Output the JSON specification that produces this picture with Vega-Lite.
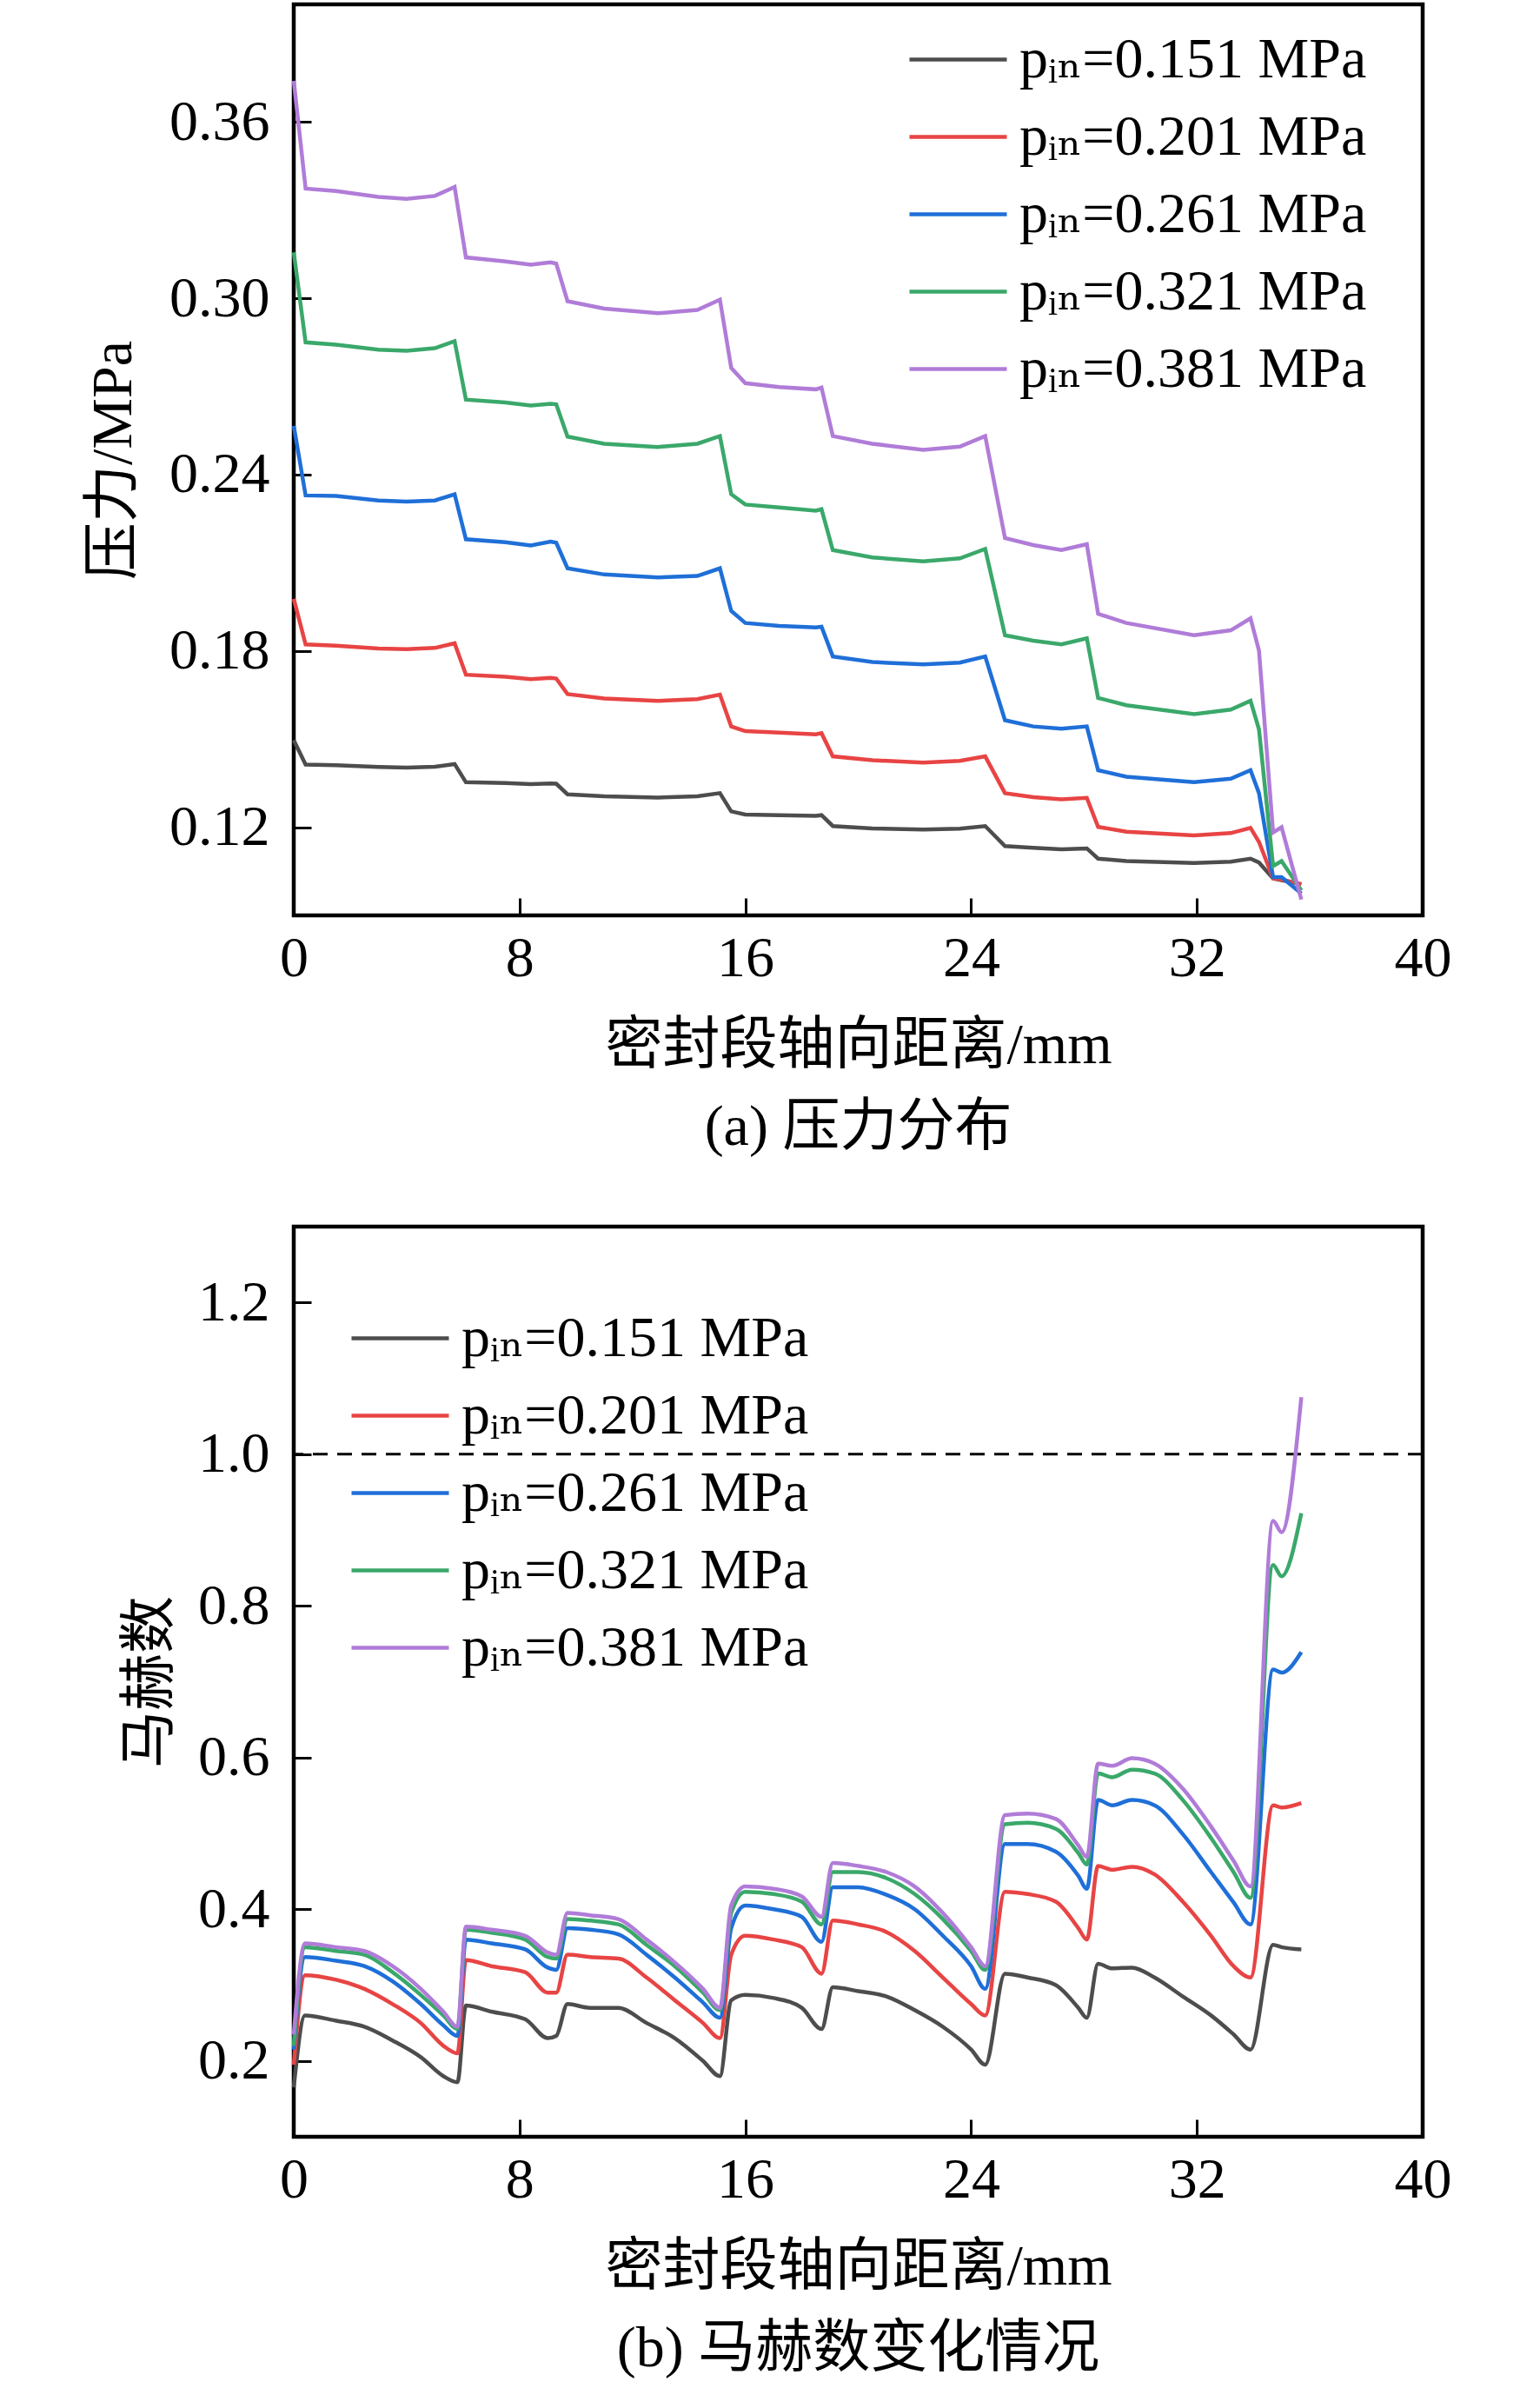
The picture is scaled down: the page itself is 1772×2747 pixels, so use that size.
{
  "$schema": "https://vega.github.io/schema/vega-lite/v6.json",
  "padding": {"left": 95, "top": 2, "right": 0, "bottom": 0},
  "background": "white",
  "config": {
    "font": "Liberation Serif",
    "view": {"stroke": "#000000", "strokeWidth": 4.5},
    "axis": {
      "domain": false, "grid": false,
      "tickSize": -20, "tickWidth": 3, "tickColor": "#000000",
      "labelFont": "Liberation Serif", "labelFontSize": 66, "labelColor": "#000000", "labelFlush": false,
      "titleFont": "Liberation Serif, Noto Sans CJK SC", "titleFontSize": 66, "titleFontWeight": "normal", "titleColor": "#000000"
    },
    "axisX": {"labelPadding": 37},
    "axisY": {"labelPadding": 48},
    "title": {"font": "Liberation Serif, Noto Sans CJK SC", "fontSize": 66, "fontWeight": "normal", "color": "#000000", "orient": "bottom", "anchor": "middle", "offset": 30},
    "legend": {
      "orient": "none", "title": null, "padding": 0,
      "symbolType": "M-1.6,0H1.6", "symbolSize": 4900, "symbolStrokeWidth": 4.5,
      "labelFont": "Liberation Serif, DejaVu Serif", "labelFontSize": 66, "labelColor": "#000000",
      "labelOffset": 33, "rowPadding": 18, "labelLimit": 0
    }
  },
  "resolve": {"scale": {"color": "independent"}, "legend": {"color": "independent"}},
  "spacing": 75,
  "datasets": {
    "pressure": [
      {"s":"0.151","x":0,"y":0.1496},{"s":"0.151","x":0.42,"y":0.1413},{"s":"0.151","x":1.5,"y":0.1411},{"s":"0.151","x":3.0,"y":0.1405},{"s":"0.151","x":4.0,"y":0.1403},{"s":"0.151","x":5.0,"y":0.1406},{"s":"0.151","x":5.7,"y":0.1415},{"s":"0.151","x":6.1,"y":0.1353},{"s":"0.151","x":7.5,"y":0.135},{"s":"0.151","x":8.4,"y":0.1347},{"s":"0.151","x":9.1,"y":0.1349},{"s":"0.151","x":9.3,"y":0.1348},{"s":"0.151","x":9.7,"y":0.1312},{"s":"0.151","x":11,"y":0.1305},{"s":"0.151","x":12.9,"y":0.1301},{"s":"0.151","x":14.3,"y":0.1305},{"s":"0.151","x":15.1,"y":0.1316},{"s":"0.151","x":15.5,"y":0.1254},{"s":"0.151","x":16,"y":0.1243},{"s":"0.151","x":17.2,"y":0.1241},{"s":"0.151","x":18.5,"y":0.1239},{"s":"0.151","x":18.7,"y":0.1241},{"s":"0.151","x":19.1,"y":0.1204},{"s":"0.151","x":20.5,"y":0.1196},{"s":"0.151","x":22.3,"y":0.1192},{"s":"0.151","x":23.6,"y":0.1195},{"s":"0.151","x":24.5,"y":0.1204},{"s":"0.151","x":25.2,"y":0.1136},{"s":"0.151","x":26.2,"y":0.113},{"s":"0.151","x":27.2,"y":0.1125},{"s":"0.151","x":28.1,"y":0.1128},{"s":"0.151","x":28.5,"y":0.1093},{"s":"0.151","x":29.5,"y":0.1085},{"s":"0.151","x":31.9,"y":0.1078},{"s":"0.151","x":33.2,"y":0.1083},{"s":"0.151","x":33.9,"y":0.1093},{"s":"0.151","x":34.2,"y":0.108},{"s":"0.151","x":34.7,"y":0.1026},{"s":"0.151","x":35.0,"y":0.102},{"s":"0.151","x":35.7,"y":0.1006},
      {"s":"0.201","x":0,"y":0.1977},{"s":"0.201","x":0.42,"y":0.1822},{"s":"0.201","x":1.5,"y":0.1818},{"s":"0.201","x":3.0,"y":0.1808},{"s":"0.201","x":4.0,"y":0.1806},{"s":"0.201","x":5.0,"y":0.181},{"s":"0.201","x":5.7,"y":0.1826},{"s":"0.201","x":6.1,"y":0.1719},{"s":"0.201","x":7.5,"y":0.1712},{"s":"0.201","x":8.4,"y":0.1704},{"s":"0.201","x":9.1,"y":0.1708},{"s":"0.201","x":9.3,"y":0.1706},{"s":"0.201","x":9.7,"y":0.1653},{"s":"0.201","x":11,"y":0.1638},{"s":"0.201","x":12.9,"y":0.163},{"s":"0.201","x":14.3,"y":0.1636},{"s":"0.201","x":15.1,"y":0.1651},{"s":"0.201","x":15.5,"y":0.1543},{"s":"0.201","x":16,"y":0.1527},{"s":"0.201","x":17.2,"y":0.1522},{"s":"0.201","x":18.5,"y":0.1516},{"s":"0.201","x":18.7,"y":0.152},{"s":"0.201","x":19.1,"y":0.1441},{"s":"0.201","x":20.5,"y":0.1428},{"s":"0.201","x":22.3,"y":0.142},{"s":"0.201","x":23.6,"y":0.1426},{"s":"0.201","x":24.5,"y":0.1441},{"s":"0.201","x":25.2,"y":0.1316},{"s":"0.201","x":26.2,"y":0.1302},{"s":"0.201","x":27.2,"y":0.1295},{"s":"0.201","x":28.1,"y":0.13},{"s":"0.201","x":28.5,"y":0.1201},{"s":"0.201","x":29.5,"y":0.1185},{"s":"0.201","x":31.9,"y":0.1172},{"s":"0.201","x":33.2,"y":0.118},{"s":"0.201","x":33.9,"y":0.1198},{"s":"0.201","x":34.2,"y":0.115},{"s":"0.201","x":34.7,"y":0.1026},{"s":"0.201","x":35.0,"y":0.1022},{"s":"0.201","x":35.7,"y":0.1006},
      {"s":"0.261","x":0,"y":0.2566},{"s":"0.261","x":0.42,"y":0.2329},{"s":"0.261","x":1.5,"y":0.2327},{"s":"0.261","x":3.0,"y":0.2312},{"s":"0.261","x":4.0,"y":0.2308},{"s":"0.261","x":5.0,"y":0.2312},{"s":"0.261","x":5.7,"y":0.2333},{"s":"0.261","x":6.1,"y":0.218},{"s":"0.261","x":7.5,"y":0.217},{"s":"0.261","x":8.4,"y":0.2159},{"s":"0.261","x":9.1,"y":0.2172},{"s":"0.261","x":9.3,"y":0.2168},{"s":"0.261","x":9.7,"y":0.2081},{"s":"0.261","x":11,"y":0.206},{"s":"0.261","x":12.9,"y":0.205},{"s":"0.261","x":14.3,"y":0.2055},{"s":"0.261","x":15.1,"y":0.2081},{"s":"0.261","x":15.5,"y":0.1936},{"s":"0.261","x":16,"y":0.1895},{"s":"0.261","x":17.2,"y":0.1885},{"s":"0.261","x":18.5,"y":0.188},{"s":"0.261","x":18.7,"y":0.1882},{"s":"0.261","x":19.1,"y":0.1781},{"s":"0.261","x":20.5,"y":0.1762},{"s":"0.261","x":22.3,"y":0.1754},{"s":"0.261","x":23.6,"y":0.176},{"s":"0.261","x":24.5,"y":0.1781},{"s":"0.261","x":25.2,"y":0.1564},{"s":"0.261","x":26.2,"y":0.1543},{"s":"0.261","x":27.2,"y":0.1535},{"s":"0.261","x":28.1,"y":0.1543},{"s":"0.261","x":28.5,"y":0.1394},{"s":"0.261","x":29.5,"y":0.1372},{"s":"0.261","x":31.9,"y":0.1353},{"s":"0.261","x":33.2,"y":0.1365},{"s":"0.261","x":33.9,"y":0.1394},{"s":"0.261","x":34.2,"y":0.1316},{"s":"0.261","x":34.7,"y":0.103},{"s":"0.261","x":35.0,"y":0.103},{"s":"0.261","x":35.7,"y":0.0975},
      {"s":"0.321","x":0,"y":0.3156},{"s":"0.321","x":0.42,"y":0.285},{"s":"0.321","x":1.5,"y":0.2842},{"s":"0.321","x":3.0,"y":0.2825},{"s":"0.321","x":4.0,"y":0.2821},{"s":"0.321","x":5.0,"y":0.283},{"s":"0.321","x":5.7,"y":0.2854},{"s":"0.321","x":6.1,"y":0.2655},{"s":"0.321","x":7.5,"y":0.2645},{"s":"0.321","x":8.4,"y":0.2635},{"s":"0.321","x":9.1,"y":0.2641},{"s":"0.321","x":9.3,"y":0.2639},{"s":"0.321","x":9.7,"y":0.2529},{"s":"0.321","x":11,"y":0.2505},{"s":"0.321","x":12.9,"y":0.2494},{"s":"0.321","x":14.3,"y":0.2505},{"s":"0.321","x":15.1,"y":0.2531},{"s":"0.321","x":15.5,"y":0.2333},{"s":"0.321","x":16,"y":0.2298},{"s":"0.321","x":17.2,"y":0.2288},{"s":"0.321","x":18.5,"y":0.2277},{"s":"0.321","x":18.7,"y":0.2282},{"s":"0.321","x":19.1,"y":0.2143},{"s":"0.321","x":20.5,"y":0.2118},{"s":"0.321","x":22.3,"y":0.2105},{"s":"0.321","x":23.6,"y":0.2115},{"s":"0.321","x":24.5,"y":0.2147},{"s":"0.321","x":25.2,"y":0.1853},{"s":"0.321","x":26.2,"y":0.1835},{"s":"0.321","x":27.2,"y":0.1822},{"s":"0.321","x":28.1,"y":0.1843},{"s":"0.321","x":28.5,"y":0.164},{"s":"0.321","x":29.5,"y":0.1615},{"s":"0.321","x":31.9,"y":0.1585},{"s":"0.321","x":33.2,"y":0.16},{"s":"0.321","x":33.9,"y":0.163},{"s":"0.321","x":34.2,"y":0.1533},{"s":"0.321","x":34.7,"y":0.1068},{"s":"0.321","x":35.0,"y":0.1085},{"s":"0.321","x":35.7,"y":0.0985},
      {"s":"0.381","x":0,"y":0.374},{"s":"0.381","x":0.42,"y":0.3373},{"s":"0.381","x":1.5,"y":0.3365},{"s":"0.381","x":3.0,"y":0.3345},{"s":"0.381","x":4.0,"y":0.3338},{"s":"0.381","x":5.0,"y":0.3348},{"s":"0.381","x":5.7,"y":0.3379},{"s":"0.381","x":6.1,"y":0.3139},{"s":"0.381","x":7.5,"y":0.3125},{"s":"0.381","x":8.4,"y":0.3114},{"s":"0.381","x":9.1,"y":0.3122},{"s":"0.381","x":9.3,"y":0.3118},{"s":"0.381","x":9.7,"y":0.299},{"s":"0.381","x":11,"y":0.2965},{"s":"0.381","x":12.9,"y":0.2949},{"s":"0.381","x":14.3,"y":0.296},{"s":"0.381","x":15.1,"y":0.2995},{"s":"0.381","x":15.5,"y":0.2763},{"s":"0.381","x":16,"y":0.2711},{"s":"0.381","x":17.2,"y":0.2698},{"s":"0.381","x":18.5,"y":0.269},{"s":"0.381","x":18.7,"y":0.2696},{"s":"0.381","x":19.1,"y":0.2531},{"s":"0.381","x":20.5,"y":0.2505},{"s":"0.381","x":22.3,"y":0.2484},{"s":"0.381","x":23.6,"y":0.2495},{"s":"0.381","x":24.5,"y":0.2531},{"s":"0.381","x":25.2,"y":0.2184},{"s":"0.381","x":26.2,"y":0.216},{"s":"0.381","x":27.2,"y":0.2143},{"s":"0.381","x":28.1,"y":0.2163},{"s":"0.381","x":28.5,"y":0.1926},{"s":"0.381","x":29.5,"y":0.1895},{"s":"0.381","x":31.9,"y":0.1853},{"s":"0.381","x":33.2,"y":0.187},{"s":"0.381","x":33.9,"y":0.1911},{"s":"0.381","x":34.2,"y":0.1801},{"s":"0.381","x":34.7,"y":0.1182},{"s":"0.381","x":35.0,"y":0.12},{"s":"0.381","x":35.7,"y":0.0954}
    ],
    "mach": [
      {"s":"0.151","x":0,"y":0.165},{"s":"0.151","x":0.4,"y":0.26},{"s":"0.151","x":1.5,"y":0.253},{"s":"0.151","x":2.5,"y":0.245},{"s":"0.151","x":3.5,"y":0.227},{"s":"0.151","x":4.5,"y":0.205},{"s":"0.151","x":5.3,"y":0.18},{"s":"0.151","x":5.8,"y":0.172},{"s":"0.151","x":6.1,"y":0.273},{"s":"0.151","x":7,"y":0.265},{"s":"0.151","x":8.2,"y":0.255},{"s":"0.151","x":9.0,"y":0.23},{"s":"0.151","x":9.3,"y":0.233},{"s":"0.151","x":9.7,"y":0.275},{"s":"0.151","x":10.5,"y":0.27},{"s":"0.151","x":11.5,"y":0.27},{"s":"0.151","x":12.5,"y":0.25},{"s":"0.151","x":13.5,"y":0.23},{"s":"0.151","x":14.5,"y":0.2},{"s":"0.151","x":15.1,"y":0.18},{"s":"0.151","x":15.5,"y":0.28},{"s":"0.151","x":16,"y":0.287},{"s":"0.151","x":17,"y":0.283},{"s":"0.151","x":18,"y":0.27},{"s":"0.151","x":18.7,"y":0.242},{"s":"0.151","x":19.1,"y":0.297},{"s":"0.151","x":20,"y":0.292},{"s":"0.151","x":21,"y":0.285},{"s":"0.151","x":22,"y":0.267},{"s":"0.151","x":23,"y":0.245},{"s":"0.151","x":24,"y":0.215},{"s":"0.151","x":24.5,"y":0.195},{"s":"0.151","x":25.2,"y":0.315},{"s":"0.151","x":26,"y":0.31},{"s":"0.151","x":27,"y":0.3},{"s":"0.151","x":27.8,"y":0.27},{"s":"0.151","x":28.1,"y":0.257},{"s":"0.151","x":28.5,"y":0.328},{"s":"0.151","x":29,"y":0.322},{"s":"0.151","x":29.7,"y":0.323},{"s":"0.151","x":30.5,"y":0.31},{"s":"0.151","x":31.5,"y":0.285},{"s":"0.151","x":32.5,"y":0.26},{"s":"0.151","x":33.3,"y":0.235},{"s":"0.151","x":33.9,"y":0.215},{"s":"0.151","x":34.7,"y":0.353},{"s":"0.151","x":35.0,"y":0.35},{"s":"0.151","x":35.7,"y":0.347},
      {"s":"0.201","x":0,"y":0.195},{"s":"0.201","x":0.4,"y":0.313},{"s":"0.201","x":1.5,"y":0.307},{"s":"0.201","x":2.5,"y":0.295},{"s":"0.201","x":3.5,"y":0.275},{"s":"0.201","x":4.5,"y":0.25},{"s":"0.201","x":5.3,"y":0.22},{"s":"0.201","x":5.8,"y":0.21},{"s":"0.201","x":6.1,"y":0.333},{"s":"0.201","x":7,"y":0.325},{"s":"0.201","x":8.2,"y":0.317},{"s":"0.201","x":9.0,"y":0.29},{"s":"0.201","x":9.3,"y":0.29},{"s":"0.201","x":9.7,"y":0.34},{"s":"0.201","x":10.5,"y":0.337},{"s":"0.201","x":11.5,"y":0.335},{"s":"0.201","x":12.5,"y":0.31},{"s":"0.201","x":13.5,"y":0.28},{"s":"0.201","x":14.5,"y":0.25},{"s":"0.201","x":15.1,"y":0.23},{"s":"0.201","x":15.5,"y":0.34},{"s":"0.201","x":16,"y":0.365},{"s":"0.201","x":17,"y":0.36},{"s":"0.201","x":18,"y":0.35},{"s":"0.201","x":18.7,"y":0.315},{"s":"0.201","x":19.1,"y":0.385},{"s":"0.201","x":20,"y":0.38},{"s":"0.201","x":21,"y":0.37},{"s":"0.201","x":22,"y":0.345},{"s":"0.201","x":23,"y":0.31},{"s":"0.201","x":24,"y":0.275},{"s":"0.201","x":24.5,"y":0.26},{"s":"0.201","x":25.2,"y":0.423},{"s":"0.201","x":26,"y":0.42},{"s":"0.201","x":27,"y":0.41},{"s":"0.201","x":27.8,"y":0.375},{"s":"0.201","x":28.1,"y":0.36},{"s":"0.201","x":28.5,"y":0.457},{"s":"0.201","x":29,"y":0.452},{"s":"0.201","x":29.7,"y":0.456},{"s":"0.201","x":30.5,"y":0.446},{"s":"0.201","x":31.5,"y":0.41},{"s":"0.201","x":32.5,"y":0.365},{"s":"0.201","x":33.3,"y":0.325},{"s":"0.201","x":33.9,"y":0.31},{"s":"0.201","x":34.7,"y":0.537},{"s":"0.201","x":35.0,"y":0.534},{"s":"0.201","x":35.7,"y":0.54},
      {"s":"0.261","x":0,"y":0.215},{"s":"0.261","x":0.4,"y":0.337},{"s":"0.261","x":1.5,"y":0.332},{"s":"0.261","x":2.5,"y":0.325},{"s":"0.261","x":3.5,"y":0.305},{"s":"0.261","x":4.5,"y":0.275},{"s":"0.261","x":5.3,"y":0.247},{"s":"0.261","x":5.8,"y":0.233},{"s":"0.261","x":6.1,"y":0.36},{"s":"0.261","x":7,"y":0.355},{"s":"0.261","x":8.2,"y":0.347},{"s":"0.261","x":9.0,"y":0.323},{"s":"0.261","x":9.3,"y":0.32},{"s":"0.261","x":9.7,"y":0.375},{"s":"0.261","x":10.5,"y":0.373},{"s":"0.261","x":11.5,"y":0.367},{"s":"0.261","x":12.5,"y":0.34},{"s":"0.261","x":13.5,"y":0.31},{"s":"0.261","x":14.5,"y":0.277},{"s":"0.261","x":15.1,"y":0.257},{"s":"0.261","x":15.5,"y":0.375},{"s":"0.261","x":16,"y":0.405},{"s":"0.261","x":17,"y":0.4},{"s":"0.261","x":18,"y":0.39},{"s":"0.261","x":18.7,"y":0.357},{"s":"0.261","x":19.1,"y":0.429},{"s":"0.261","x":20,"y":0.429},{"s":"0.261","x":21,"y":0.419},{"s":"0.261","x":22,"y":0.4},{"s":"0.261","x":23,"y":0.365},{"s":"0.261","x":24,"y":0.325},{"s":"0.261","x":24.5,"y":0.295},{"s":"0.261","x":25.2,"y":0.486},{"s":"0.261","x":26,"y":0.486},{"s":"0.261","x":27,"y":0.476},{"s":"0.261","x":27.8,"y":0.444},{"s":"0.261","x":28.1,"y":0.427},{"s":"0.261","x":28.5,"y":0.544},{"s":"0.261","x":29,"y":0.537},{"s":"0.261","x":29.7,"y":0.544},{"s":"0.261","x":30.5,"y":0.537},{"s":"0.261","x":31.5,"y":0.499},{"s":"0.261","x":32.5,"y":0.449},{"s":"0.261","x":33.3,"y":0.409},{"s":"0.261","x":33.9,"y":0.38},{"s":"0.261","x":34.7,"y":0.716},{"s":"0.261","x":35.0,"y":0.712},{"s":"0.261","x":35.7,"y":0.739},
      {"s":"0.321","x":0,"y":0.22},{"s":"0.321","x":0.4,"y":0.35},{"s":"0.321","x":1.5,"y":0.345},{"s":"0.321","x":2.5,"y":0.34},{"s":"0.321","x":3.5,"y":0.317},{"s":"0.321","x":4.5,"y":0.287},{"s":"0.321","x":5.3,"y":0.26},{"s":"0.321","x":5.8,"y":0.242},{"s":"0.321","x":6.1,"y":0.373},{"s":"0.321","x":7,"y":0.369},{"s":"0.321","x":8.2,"y":0.36},{"s":"0.321","x":9.0,"y":0.337},{"s":"0.321","x":9.3,"y":0.335},{"s":"0.321","x":9.7,"y":0.387},{"s":"0.321","x":10.5,"y":0.385},{"s":"0.321","x":11.5,"y":0.38},{"s":"0.321","x":12.5,"y":0.353},{"s":"0.321","x":13.5,"y":0.325},{"s":"0.321","x":14.5,"y":0.29},{"s":"0.321","x":15.1,"y":0.267},{"s":"0.321","x":15.5,"y":0.395},{"s":"0.321","x":16,"y":0.423},{"s":"0.321","x":17,"y":0.42},{"s":"0.321","x":18,"y":0.41},{"s":"0.321","x":18.7,"y":0.38},{"s":"0.321","x":19.1,"y":0.449},{"s":"0.321","x":20,"y":0.449},{"s":"0.321","x":21,"y":0.441},{"s":"0.321","x":22,"y":0.42},{"s":"0.321","x":23,"y":0.387},{"s":"0.321","x":24,"y":0.345},{"s":"0.321","x":24.5,"y":0.32},{"s":"0.321","x":25.2,"y":0.512},{"s":"0.321","x":26,"y":0.514},{"s":"0.321","x":27,"y":0.506},{"s":"0.321","x":27.8,"y":0.474},{"s":"0.321","x":28.1,"y":0.459},{"s":"0.321","x":28.5,"y":0.579},{"s":"0.321","x":29,"y":0.574},{"s":"0.321","x":29.7,"y":0.584},{"s":"0.321","x":30.5,"y":0.579},{"s":"0.321","x":31.5,"y":0.544},{"s":"0.321","x":32.5,"y":0.494},{"s":"0.321","x":33.3,"y":0.449},{"s":"0.321","x":33.9,"y":0.415},{"s":"0.321","x":34.7,"y":0.854},{"s":"0.321","x":35.0,"y":0.839},{"s":"0.321","x":35.7,"y":0.922},
      {"s":"0.381","x":0,"y":0.235},{"s":"0.381","x":0.4,"y":0.355},{"s":"0.381","x":1.5,"y":0.35},{"s":"0.381","x":2.5,"y":0.345},{"s":"0.381","x":3.5,"y":0.325},{"s":"0.381","x":4.5,"y":0.295},{"s":"0.381","x":5.3,"y":0.265},{"s":"0.381","x":5.8,"y":0.245},{"s":"0.381","x":6.1,"y":0.377},{"s":"0.381","x":7,"y":0.373},{"s":"0.381","x":8.2,"y":0.365},{"s":"0.381","x":9.0,"y":0.343},{"s":"0.381","x":9.3,"y":0.34},{"s":"0.381","x":9.7,"y":0.395},{"s":"0.381","x":10.5,"y":0.392},{"s":"0.381","x":11.5,"y":0.387},{"s":"0.381","x":12.5,"y":0.36},{"s":"0.381","x":13.5,"y":0.33},{"s":"0.381","x":14.5,"y":0.295},{"s":"0.381","x":15.1,"y":0.27},{"s":"0.381","x":15.5,"y":0.405},{"s":"0.381","x":16,"y":0.43},{"s":"0.381","x":17,"y":0.427},{"s":"0.381","x":18,"y":0.417},{"s":"0.381","x":18.7,"y":0.39},{"s":"0.381","x":19.1,"y":0.461},{"s":"0.381","x":20,"y":0.457},{"s":"0.381","x":21,"y":0.449},{"s":"0.381","x":22,"y":0.43},{"s":"0.381","x":23,"y":0.395},{"s":"0.381","x":24,"y":0.35},{"s":"0.381","x":24.5,"y":0.325},{"s":"0.381","x":25.2,"y":0.524},{"s":"0.381","x":26,"y":0.526},{"s":"0.381","x":27,"y":0.519},{"s":"0.381","x":27.8,"y":0.484},{"s":"0.381","x":28.1,"y":0.469},{"s":"0.381","x":28.5,"y":0.592},{"s":"0.381","x":29,"y":0.589},{"s":"0.381","x":29.7,"y":0.599},{"s":"0.381","x":30.5,"y":0.592},{"s":"0.381","x":31.5,"y":0.559},{"s":"0.381","x":32.5,"y":0.509},{"s":"0.381","x":33.3,"y":0.464},{"s":"0.381","x":33.9,"y":0.43},{"s":"0.381","x":34.7,"y":0.912},{"s":"0.381","x":35.0,"y":0.897},{"s":"0.381","x":35.7,"y":1.075}
    ],
    "ref": [{"y": 1.0}]
  },
  "vconcat": [
    {
      "width": 1299, "height": 1048,
      "title": {"text": "(a) 压力分布"},
      "data": {"name": "pressure"},
      "mark": {"type": "line", "strokeWidth": 4.5},
      "encoding": {
        "x": {"field": "x", "type": "quantitative", "scale": {"domain": [0, 40], "nice": false},
              "axis": {"values": [0, 8, 16, 24, 32, 40], "title": "密封段轴向距离/mm", "titlePadding": 35}},
        "y": {"field": "y", "type": "quantitative", "scale": {"domain": [0.09, 0.40], "nice": false, "zero": false},
              "axis": {"values": [0.12, 0.18, 0.24, 0.30, 0.36], "format": ".2f", "title": "压力/MPa", "titlePadding": 30}},
        "color": {"field": "s", "type": "nominal",
                  "scale": {"domain": ["0.151", "0.201", "0.261", "0.321", "0.381"], "range": ["#4d4d4d", "#e84444", "#1f6fd8", "#3aa86a", "#b07cd8"]},
                  "legend": {"legendX": 727, "legendY": 26, "labelExpr": "'pᵢₙ=' + datum.label + ' MPa'"}}
      }
    },
    {
      "width": 1299, "height": 1047,
      "title": {"text": "(b) 马赫数变化情况"},
      "layer": [
        {
          "data": {"name": "ref"},
          "mark": {"type": "rule", "strokeDash": [17, 11], "strokeWidth": 3, "color": "#000000"},
          "encoding": {"y": {"field": "y", "type": "quantitative"}}
        },
        {
          "data": {"name": "mach"},
          "mark": {"type": "line", "strokeWidth": 4.5, "interpolate": "monotone"},
          "encoding": {
            "x": {"field": "x", "type": "quantitative", "scale": {"domain": [0, 40], "nice": false},
                  "axis": {"values": [0, 8, 16, 24, 32, 40], "title": "密封段轴向距离/mm", "titlePadding": 35}},
            "y": {"field": "y", "type": "quantitative", "scale": {"domain": [0.1, 1.3], "nice": false, "zero": false},
                  "axis": {"values": [0.2, 0.4, 0.6, 0.8, 1.0, 1.2], "format": ".1f", "title": "马赫数", "titlePadding": 21}},
            "color": {"field": "s", "type": "nominal",
                      "scale": {"domain": ["0.151", "0.201", "0.261", "0.321", "0.381"], "range": ["#4d4d4d", "#e84444", "#1f6fd8", "#3aa86a", "#b07cd8"]},
                      "legend": {"legendX": 85, "legendY": 91, "labelExpr": "'pᵢₙ=' + datum.label + ' MPa'"}}
          }
        }
      ]
    }
  ]
}
